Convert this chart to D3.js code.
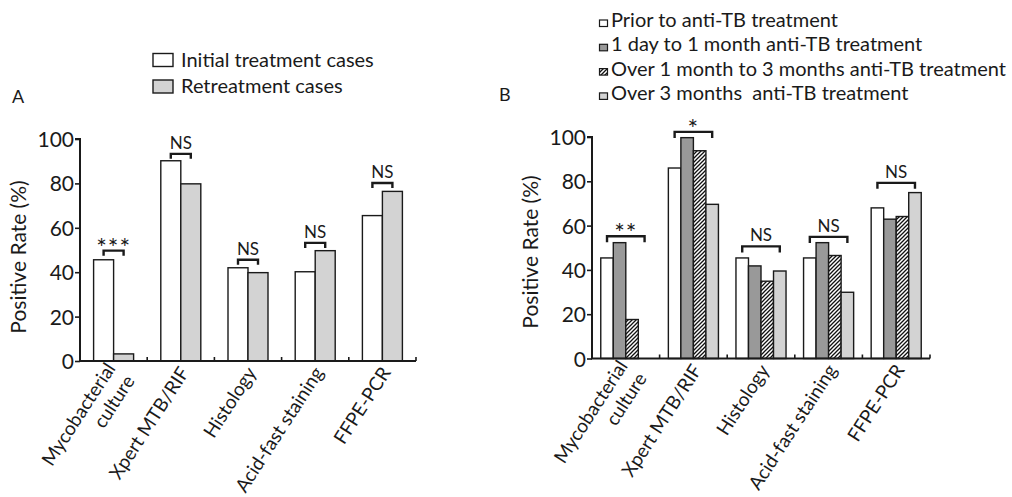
<!DOCTYPE html>
<html><head><meta charset="utf-8">
<script src="https://cdn.jsdelivr.net/npm/d3@7"></script>
<style>
body{margin:0;background:#fff}
text{font-family:Lato, "Noto Sans", sans-serif; fill:#1a1a1a}
</style>
</head><body>
<svg id="c" width="1012" height="497"></svg>
<script>
// ---------- data ----------
const categories = ["Mycobacterial culture", "Xpert MTB/RIF", "Histology", "Acid-fast staining", "FFPE-PCR"];
const yTicks = [0, 20, 40, 60, 80, 100];

// Panel A
const seriesA = ["Initial treatment cases", "Retreatment cases"];
const initialA = [45.6, 90.2, 42.0, 40.2, 65.5];
const retreatA = [3.2, 79.8, 39.8, 49.7, 76.4];
const sigA = ["***", "NS", "NS", "NS", "NS"];
const bracketA = [49.7, 93.3, 45.6, 53.2, 80.2];

// Panel B
const seriesB = ["Prior to anti-TB treatment", "1 day to 1 month anti-TB treatment",
  "Over 1 month to 3 months anti-TB treatment", "Over 3 months  anti-TB treatment"];
const priorB = [45.4, 86.0, 45.4, 45.4, 68.0];
const day1B = [52.3, 99.7, 41.8, 52.3, 62.9];
const month1to3B = [17.6, 93.8, 34.9, 46.5, 64.1];
const over3B = [null, 69.6, 39.5, 29.9, 74.9];
const sigB = ["**", "*", "NS", "NS", "NS"];
const bracketB = [55.2, 102.3, 50.6, 54.9, 79.3];

// ---------- drawing ----------
const svg = d3.select("#c");
const ink = "#1a1a1a";

const defs = svg.append("defs");
const pat = defs.append("pattern").attr("id", "hatch")
  .attr("patternUnits", "userSpaceOnUse").attr("width", 4).attr("height", 4);
pat.append("rect").attr("width", 4).attr("height", 4).attr("fill", "#fff");
pat.append("path").attr("d", "M-1,1 L1,-1 M0,4 L4,0 M3,5 L5,3")
  .attr("stroke", "#111").attr("stroke-width", 1.3);

const fillsA = ["#ffffff", "#d3d3d3"];
const fillsB = ["#ffffff", "#999999", "url(#hatch)", "#d3d3d3"];

function drawPanel(o) {
  const g = svg.append("g");
  const x = d3.scaleBand().domain(categories).range([o.x0, o.x1]);
  const xs = d3.scaleBand().domain(o.series).range([0, x.bandwidth()]).paddingOuter(o.pad);
  const y = d3.scaleLinear().domain([0, 100]).range([o.y0, o.y1]);

  // bars
  o.series.forEach((s, si) => {
    g.selectAll(null).data(categories.map((c, ci) => ({c, v: o.values[si][ci]})).filter(d => d.v != null))
      .join("rect")
      .attr("x", d => x(d.c) + xs(s))
      .attr("width", xs.bandwidth())
      .attr("y", d => y(d.v))
      .attr("height", d => y(0) - y(d.v))
      .attr("fill", o.fills[si])
      .attr("stroke", ink).attr("stroke-width", 1.4);
  });

  // y axis
  const ya = g.append("g").attr("transform", `translate(${o.x0},0)`)
    .call(d3.axisLeft(y).tickValues(yTicks).tickSize(5).tickPadding(1));
  ya.select(".domain").attr("stroke", ink).attr("stroke-width", 2).attr("d", `M-5,${y(100)}H0V${y(0)}`);
  ya.selectAll(".tick line").attr("stroke", ink).attr("stroke-width", 1.6);
  ya.selectAll(".tick text").style("font-size", "21px").style("font-family", "Lato").attr("fill", ink).attr("dy", "0.36em");

  // x axis line with inward ticks at boundaries
  g.append("line").attr("x1", o.x0 - 1).attr("x2", o.x1).attr("y1", y(0)).attr("y2", y(0))
    .attr("stroke", ink).attr("stroke-width", 2);
  const bounds = categories.slice(1).map(c => x(c)).concat([o.x1]);
  g.selectAll(null).data(bounds).join("line")
    .attr("x1", d => d).attr("x2", d => d)
    .attr("y1", y(0)).attr("y2", y(0) - 4)
    .attr("stroke", ink).attr("stroke-width", 1.6);

  // category labels
  categories.forEach(c => {
    const cx = x(c) + x.bandwidth() / 2;
    const t = g.append("text")
      .attr("transform", `translate(${cx + 9},${y(0) + 11.5}) rotate(-57)`)
      .attr("text-anchor", "end").style("font-size", "19px");
    const parts = c === "Mycobacterial culture" ? ["Mycobacterial", "culture"] : [c];
    if (parts.length === 1) {
      t.text(c);
    } else {
      t.append("tspan").attr("x", 0).attr("dy", "-0.4em").text(parts[0]);
      t.append("tspan").attr("x", 0).attr("dy", "1.2em").text(parts[1]);
    }
  });

  // significance brackets
  const first = o.series[0], last = o.series[o.series.length - 1];
  categories.forEach((c, ci) => {
    const xa = x(c) + xs(first) + xs.bandwidth() / 2;
    const xb = x(c) + xs(last) + xs.bandwidth() / 2;
    const yb = y(o.brackets[ci]);
    g.append("path")
      .attr("d", `M${xa},${yb + o.tick}V${yb}H${xb}V${yb + o.tick}`)
      .attr("fill", "none").attr("stroke", ink).attr("stroke-width", 2.4);
    const lab = o.sig[ci];
    const isStar = lab.indexOf("*") >= 0;
    g.append("text").attr("x", (xa + xb) / 2).attr("y", yb + (isStar ? 6 : -5))
      .attr("text-anchor", "middle")
      .style("font-size", isStar ? "25px" : "17px")
      .style("letter-spacing", isStar ? "1px" : "0px")
      .text(lab);
  });

  // y title
  g.append("text").attr("transform", `translate(${o.titleX},${o.titleY}) rotate(-90)`)
    .attr("text-anchor", "middle").style("font-size", "21px").text("Positive Rate (%)");

  // panel letter
  g.append("text").attr("x", o.letterX).attr("y", o.letterY).style("font-size", "18px").text(o.letter);
  return g;
}

drawPanel({x0: 80, x1: 416, y0: 361, y1: 139, pad: 0.68, series: seriesA,
  values: [initialA, retreatA], fills: fillsA, sig: sigA, brackets: bracketA, tick: 5,
  titleX: 26, titleY: 257, letter: "A", letterX: 12, letterY: 103});

drawPanel({x0: 592, x1: 930, y0: 358.5, y1: 137, pad: 0.7, series: seriesB,
  values: [priorB, day1B, month1to3B, over3B], fills: fillsB, sig: sigB, brackets: bracketB, tick: 6,
  titleX: 538, titleY: 252, letter: "B", letterX: 499, letterY: 101});

// legend A
const lgA = svg.append("g");
seriesA.forEach((s, i) => {
  lgA.append("rect").attr("x", 153).attr("y", 53.5 + i * 26.5).attr("width", 20).attr("height", 13)
    .attr("fill", fillsA[i]).attr("stroke", ink).attr("stroke-width", 1.4);
  lgA.append("text").attr("x", 181).attr("y", 66.5 + i * 26.5).style("font-size", "20px").text(s);
});

// legend B
const lgB = svg.append("g");
seriesB.forEach((s, i) => {
  lgB.append("rect").attr("x", 599.5).attr("y", 20 + i * 24.3).attr("width", 8).attr("height", 6.5)
    .attr("fill", fillsB[i]).attr("stroke", ink).attr("stroke-width", 1.2);
  lgB.append("text").attr("x", 611).attr("y", 27 + i * 24.3).style("font-size", "20px")
    .style("white-space", "pre").text(s);
});
</script>
</body></html>
